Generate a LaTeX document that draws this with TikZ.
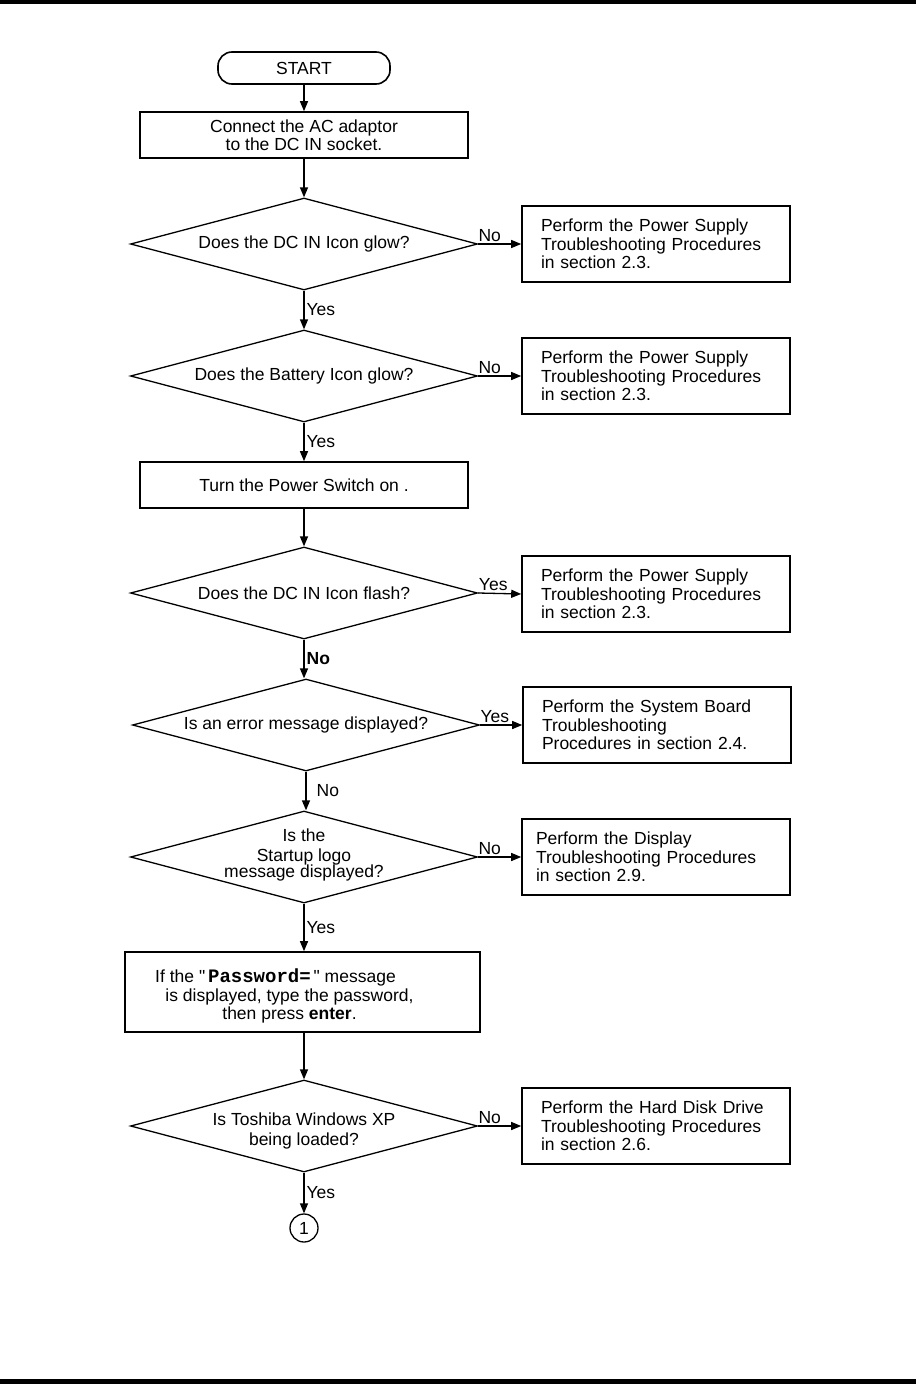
\documentclass[tikz,border=0pt]{standalone}
\usepackage{fontspec}
\setmainfont{Liberation Sans}
\newfontfamily\pwfont{Liberation Mono}
\newfontfamily\qfont{Liberation Sans}
\usetikzlibrary{shapes.geometric,arrows.meta}
\begin{document}
\begin{tikzpicture}[x=1pt,y=-1pt,
  font=\fontsize{17.5}{18.5}\selectfont,
  box/.style={draw, line width=1.6pt, minimum width=328pt, minimum height=46pt, align=center, inner sep=0pt},
  rbox/.style={draw, line width=1.6pt, minimum width=268pt, minimum height=76pt, text width=230pt, align=left, inner xsep=19pt, inner ysep=0pt},
  dia/.style={draw, diamond, line width=1.3pt, minimum width=347pt, minimum height=92pt, inner sep=0pt},
  dtext/.style={align=center, inner sep=0pt},
  term/.style={draw, line width=1.6pt, rounded corners=14pt, minimum width=172pt, minimum height=32pt, inner sep=0pt},
  conn/.style={draw, circle, line width=1.3pt, minimum size=28pt, inner sep=0pt},
  arr/.style={line width=1.3pt, -{Triangle[length=10pt,width=8pt]}},
  lab/.style={inner sep=2pt}]
\useasboundingbox (0,0) rectangle (916,1384);
\fill (0,0) rectangle (916,4);
\fill (0,1379) rectangle (916,1384);

\node[term] (start) at (304,68) {START};
\node[box] (b1) at (304,135) {Connect the AC adaptor\\to the DC IN socket.};

\node[dia] (d1) at (304,244) {};
\node[dtext] at (d1.center) {Does the DC IN Icon glow?};
\node[rbox] (r1) at (656,244) {Perform the Power Supply\\Troubleshooting Procedures\\in section 2.3.};

\node[dia] (d2) at (304,376) {};
\node[dtext] at (d2.center) {Does the Battery Icon glow?};
\node[rbox] (r2) at (656,376) {Perform the Power Supply\\Troubleshooting Procedures\\in section 2.3.};

\node[box] (b2) at (304,485) {Turn the Power Switch on .};

\node[dia] (d3) at (304,593) {};
\node[dtext] at (d3.center) {Does the DC IN Icon flash?};
\node[rbox] (r3) at (656,594) {Perform the Power Supply\\Troubleshooting Procedures\\in section 2.3.};

\node[dia] (d4) at (306,725) {};
\node[dtext] at (d4.center) {Is an error message displayed?};
\node[rbox] (r4) at (657,725) {Perform the System Board\\Troubleshooting\\Procedures in section 2.4.};

\node[dia] (d5) at (304,857) {};
\node[dtext] at ([yshift=2pt]d5.center) {Is the\\[1pt]Startup logo\\[-2pt]message displayed?};
\node[rbox, inner xsep=14pt, text width=240pt] (r5) at (656,857) {Perform the Display\\Troubleshooting Procedures\\in section 2.9.};

\node[box, minimum width=355pt, minimum height=80pt] (pw) at (302.5,992) {};
\node[dtext] at ([xshift=-13pt,yshift=-4pt]pw.center) {If the {\qfont"}\,{\pwfont\bfseries\fontsize{19}{19}\selectfont Password=}\,{\qfont"} message\hspace*{28pt}\\is displayed, type the password,\\then press \textbf{enter}.};

\node[dia] (d6) at (304,1126) {};
\node[dtext] at ([yshift=-5pt]d6.center) {Is Toshiba Windows XP\\[1pt]being loaded?};
\node[rbox] (r6) at (656,1126) {Perform the Hard Disk Drive\\Troubleshooting Procedures\\in section 2.6.};

\node[conn] (c1) at (304,1228) {1};

\draw[arr] (start) -- (b1);
\draw[arr] (b1) -- (d1.north);
\draw[arr] (d1.east) -- node[lab, above, pos=0.27] {No} (r1.west);
\draw[arr] (d1.south) -- node[lab, right] {Yes} (d2.north);
\draw[arr] (d2.east) -- node[lab, above, pos=0.27] {No} (r2.west);
\draw[arr] (d2.south) -- node[lab, right] {Yes} (b2);
\draw[arr] (b2) -- (d3.north);
\draw[arr] (d3.east) -- node[lab, above, pos=0.35] {Yes} (r3.west);
\draw[arr] (d3.south) -- node[lab, right, font=\fontsize{17.5}{18.5}\selectfont\bfseries] {No} (d4.north -| d3.south);
\draw[arr] (d4.east) -- node[lab, above, pos=0.35] {Yes} (r4.west);
\draw[arr] (d4.south) -- node[lab, right, xshift=8pt] {No} (d5.north -| d4.south);
\draw[arr] (d5.east) -- node[lab, above, pos=0.27] {No} (r5.west);
\draw[arr] (d5.south) -- node[lab, right] {Yes} (pw.north -| d5.south);
\draw[arr] (pw.south -| d6.north) -- (d6.north);
\draw[arr] (d6.east) -- node[lab, above, pos=0.27] {No} (r6.west);
\draw[arr] (d6.south) -- node[lab, right] {Yes} (c1);
\end{tikzpicture}
\end{document}
